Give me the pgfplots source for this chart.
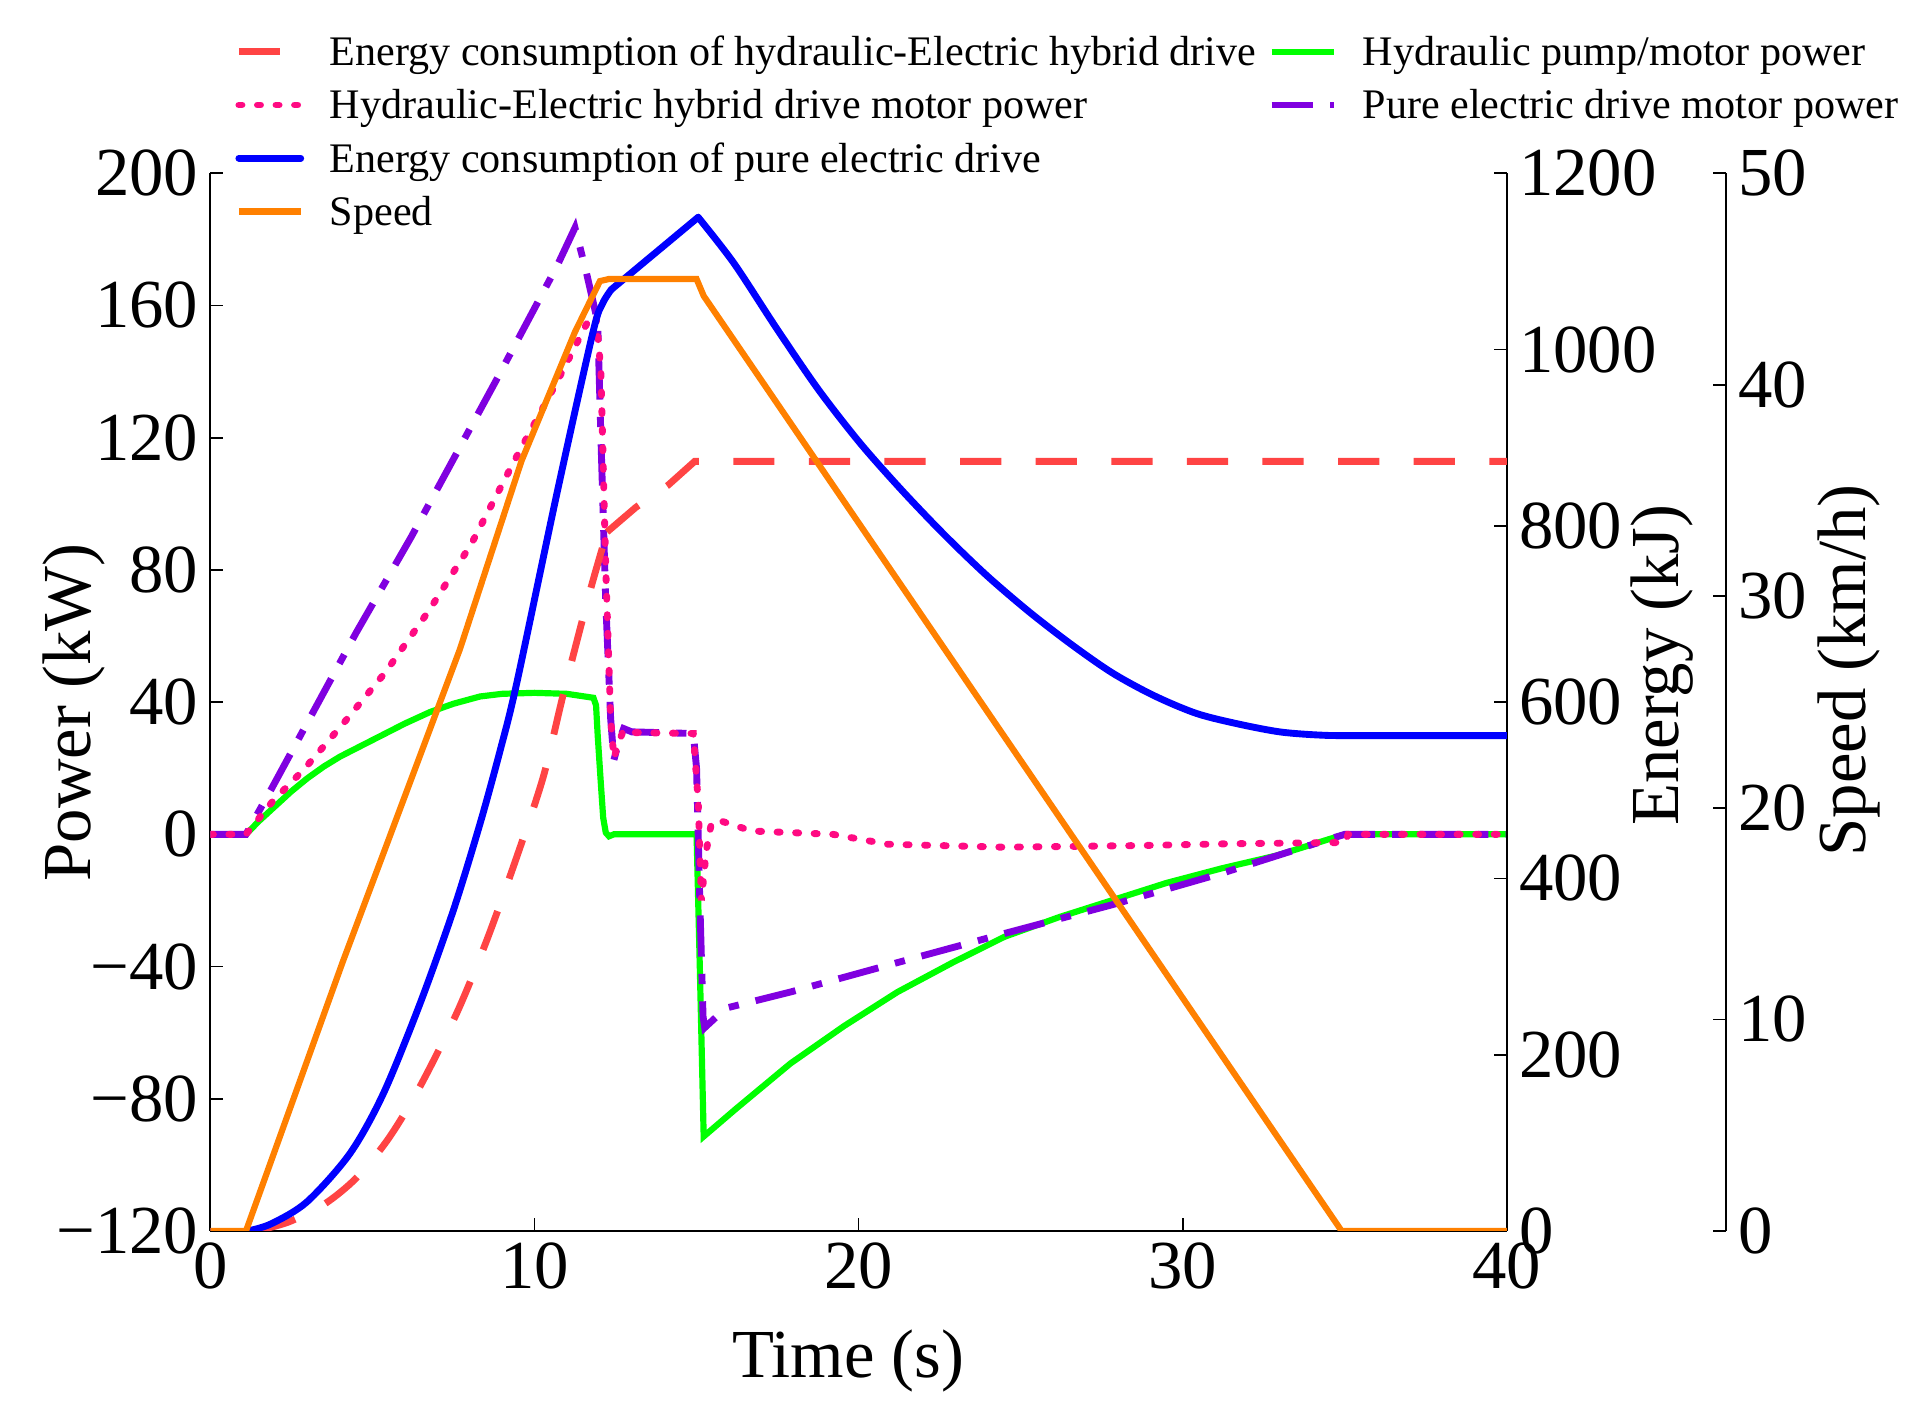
\documentclass[border=0pt]{standalone}
\usepackage{fontspec}
\setmainfont{Liberation Serif}
\usepackage{pgfplots}
\pgfplotsset{compat=1.18}

\definecolor{cRed}{HTML}{FF4444}
\definecolor{cPink}{HTML}{FF0A82}
\definecolor{cBlue}{HTML}{0000FF}
\definecolor{cOrange}{HTML}{FF8000}
\definecolor{cGreen}{HTML}{00FF00}
\definecolor{cPurple}{HTML}{8000E0}

\pgfplotsset{
  base/.style={
    scale only axis, width=377.3pt, height=307.8pt,
    xmin=0, xmax=40,
    tick align=inside,
    major tick length=3.8pt,
    every tick/.style={black, line width=0.5pt},
    tick label style={font=\fontsize{20}{24}\selectfont},
    every axis y label/.style={rotate=90, anchor=center, font=\fontsize{20}{24}\selectfont},
    every axis x label/.style={anchor=center, font=\fontsize{20}{24}\selectfont},
    /pgf/number format/assume math mode=true,
    /pgf/number format/1000 sep={},
    axis line style={-, line width=0.5pt},
  },
  redE/.style={cRed, line width=2pt, dash pattern=on 12pt off 10pt},
  pinkP/.style={cPink, line width=2pt, line cap=round, dash pattern=on 0.9pt off 4.5pt},
  blueE/.style={cBlue, line width=2pt, line cap=round},
  orangeS/.style={cOrange, line width=1.8pt},
  greenP/.style={cGreen, line width=1.8pt},
  purpleP/.style={cPurple, line width=2pt, dash pattern=on 12pt off 5pt on 3pt off 5pt},
}

\begin{document}
\begin{tikzpicture}
% power axis
\begin{axis}[base,
  ymin=-120, ymax=200,
  axis x line*=bottom, axis y line*=left,
  x axis line style={line width=0.8pt},
  xtick={0,10,20,30,40},
  ytick={-120,-80,-40,0,40,80,120,160,200},
  yticklabels={−120,−80,−40,0,40,80,120,160,200},
  xlabel={Time (s)}, ylabel={Power (kW)},
  xlabel style={at={(axis description cs:0.492,-0.123)}},
  ylabel style={at={(axis description cs:-0.105,0.49)}},
  legend columns=2,
  legend cell align=left,
  legend image code/.code={\path (-3pt,0pt) (25pt,0pt); \draw[#1] (0pt,0.9pt) -- (18pt,0.9pt);},
  legend style={at={(axis description cs:0.0109,1.1329)}, anchor=north west,
    draw=none, fill=none, inner sep=0pt, row sep=3pt,
    font=\fontsize{12.25}{14}\selectfont,
    nodes={inner sep=0.5pt, text height=8.9pt, text depth=2.6pt}},
]
\addplot[greenP, forget plot] coordinates {
  (0,0) (1.1,0) (1.5,4) (2,8.5) (2.5,13) (3,17) (3.5,20.5) (4,23.5) (4.5,26)
  (5.2,29.5) (6,33.5) (6.78,37) (7.5,39.5) (8.32,41.7) (9.0,42.5) (10,42.8)
  (11,42.5) (11.82,41.3) (11.9,39) (11.95,30) (12.05,15) (12.12,5) (12.2,0.5)
  (12.3,-0.6) (12.45,0) (15.0,0) (15.1,-40) (15.22,-91.4) (16.22,-83)
  (17.9,-69.3) (19.55,-58) (21.2,-47.7) (22.9,-38.8) (24.5,-31) (26.2,-25)
  (27.9,-19.7) (29.5,-14.7) (31.2,-10.3) (32.9,-6.4) (34.5,-1.5) (35,0) (40,0)
};
\addplot[purpleP, forget plot] coordinates {
  (0,0) (1.1,0) (1.9,14) (4.5,61) (6.2,90) (8.8,137) (10.7,172) (11.25,183.5)
  (11.6,170) (11.95,155) (12.05,120) (12.2,70) (12.35,35) (12.45,22.5) (12.6,28)
  (12.75,32) (13.0,31) (14.9,30.5) (15.0,20) (15.1,-20) (15.2,-55) (15.25,-58.5)
  (15.9,-52.6) (17.9,-47.7) (21.2,-38.8) (24.5,-30) (27.9,-21.1) (31.2,-11.8)
  (34.5,-1.5) (35.0,0) (40,0)
};
\addplot[pinkP, forget plot] coordinates {
  (0,0) (1.1,0) (1.9,9.7) (2.9,19.8) (4.1,33.5) (5.4,49) (6.74,67.6) (8.06,88)
  (9.38,113) (10.7,137) (11.64,155) (11.9,157) (12.05,140) (12.2,80) (12.35,35)
  (12.45,23) (12.6,28) (12.75,31.5) (13,30.8) (14.9,30.5) (15.05,10) (15.15,-20)
  (15.3,-5) (15.45,3) (15.64,4.4) (16.7,1) (19.2,0) (20.9,-3) (24.5,-3.9)
  (28.7,-3.4) (31.2,-2.9) (34.5,-2.5) (35.0,-2.5) (35.1,0) (40,0)
};
\addlegendimage{redE}
\addlegendentry{Energy consumption of hydraulic-Electric hybrid drive}
\addlegendimage{greenP}
\addlegendentry{Hydraulic pump/motor power}
\addlegendimage{pinkP}
\addlegendentry{Hydraulic-Electric hybrid drive motor power}
\addlegendimage{purpleP}
\addlegendentry{Pure electric drive motor power}
\addlegendimage{blueE}
\addlegendentry{Energy consumption of pure electric drive}
\addlegendimage{empty legend}
\addlegendentry{}
\addlegendimage{orangeS}
\addlegendentry{Speed}
\end{axis}

% energy axis
\begin{axis}[base,
  ymin=0, ymax=1200,
  axis y line*=right, axis x line=none,
  ytick={0,200,400,600,800,1000,1200},
  ylabel={Energy (kJ)},
  ylabel style={at={(axis description cs:1.120,0.535)}},
]
\addplot[redE] coordinates {(0,0) (1.4,0)};
\addplot[redE, smooth, tension=0.5] coordinates {
  (1.4,0) (2.4,10) (3.5,30) (4.5,60) (5.5,105) (6.47,164) (7.6,247)
  (8.53,330) (9.45,424) (10.27,515) (10.89,609) (11.7,724) (12.24,793)
};
\addplot[redE] coordinates {
  (12.24,793) (13.13,821) (14.12,846) (14.94,873) (15.1,873) (40,873)
};
\addplot[blueE] coordinates {(0,0) (1.15,0)};
\addplot[blueE, smooth, tension=0.5] coordinates {
  (1.15,0) (1.87,8) (2.98,33) (4.31,88) (5.34,156) (6.47,258) (7.5,364)
  (8.32,462) (8.94,545) (9.45,621) (10.7,838) (11.8,1019) (12.1,1052)
  (12.37,1068)
};
\addplot[blueE] coordinates {(12.37,1068) (15.05,1150)};
\addplot[blueE, smooth, tension=0.5] coordinates {
  (15.05,1150) (16.15,1098) (17.45,1025) (18.75,955) (20.04,894) (21.34,840)
  (22.64,790) (23.94,744) (25.24,703) (26.54,666) (27.83,633) (29.13,607)
  (30.43,587) (31.73,575) (33.03,566) (34.32,562.4) (35.5,562) (40,562)
};
\end{axis}

% speed data
\begin{axis}[base, ymin=0, ymax=50, hide axis]
\addplot[orangeS] coordinates {
  (0,0) (1.1,0) (4.08,12.7) (5.23,17.4) (7.7,27.5) (9.6,36.4) (11.25,42.5)
  (12.02,44.9) (12.3,45) (15.0,45) (15.22,44.2) (16.87,40.5) (34.9,0) (40,0)
};
\end{axis}

% speed axis
\begin{axis}[base, at={(63.7pt,0pt)},
  ymin=0, ymax=50,
  axis y line*=right, axis x line=none,
  ytick={0,10,20,30,40,50},
  ylabel={Speed (km/h)},
  ylabel style={at={(axis description cs:1.095,0.53)}},
]
\addplot[draw=none] coordinates {(0,0) (40,50)};
\end{axis}

\path (-61.2pt,-55.8pt) rectangle (500.4pt,358.2pt);
\end{tikzpicture}
\end{document}
